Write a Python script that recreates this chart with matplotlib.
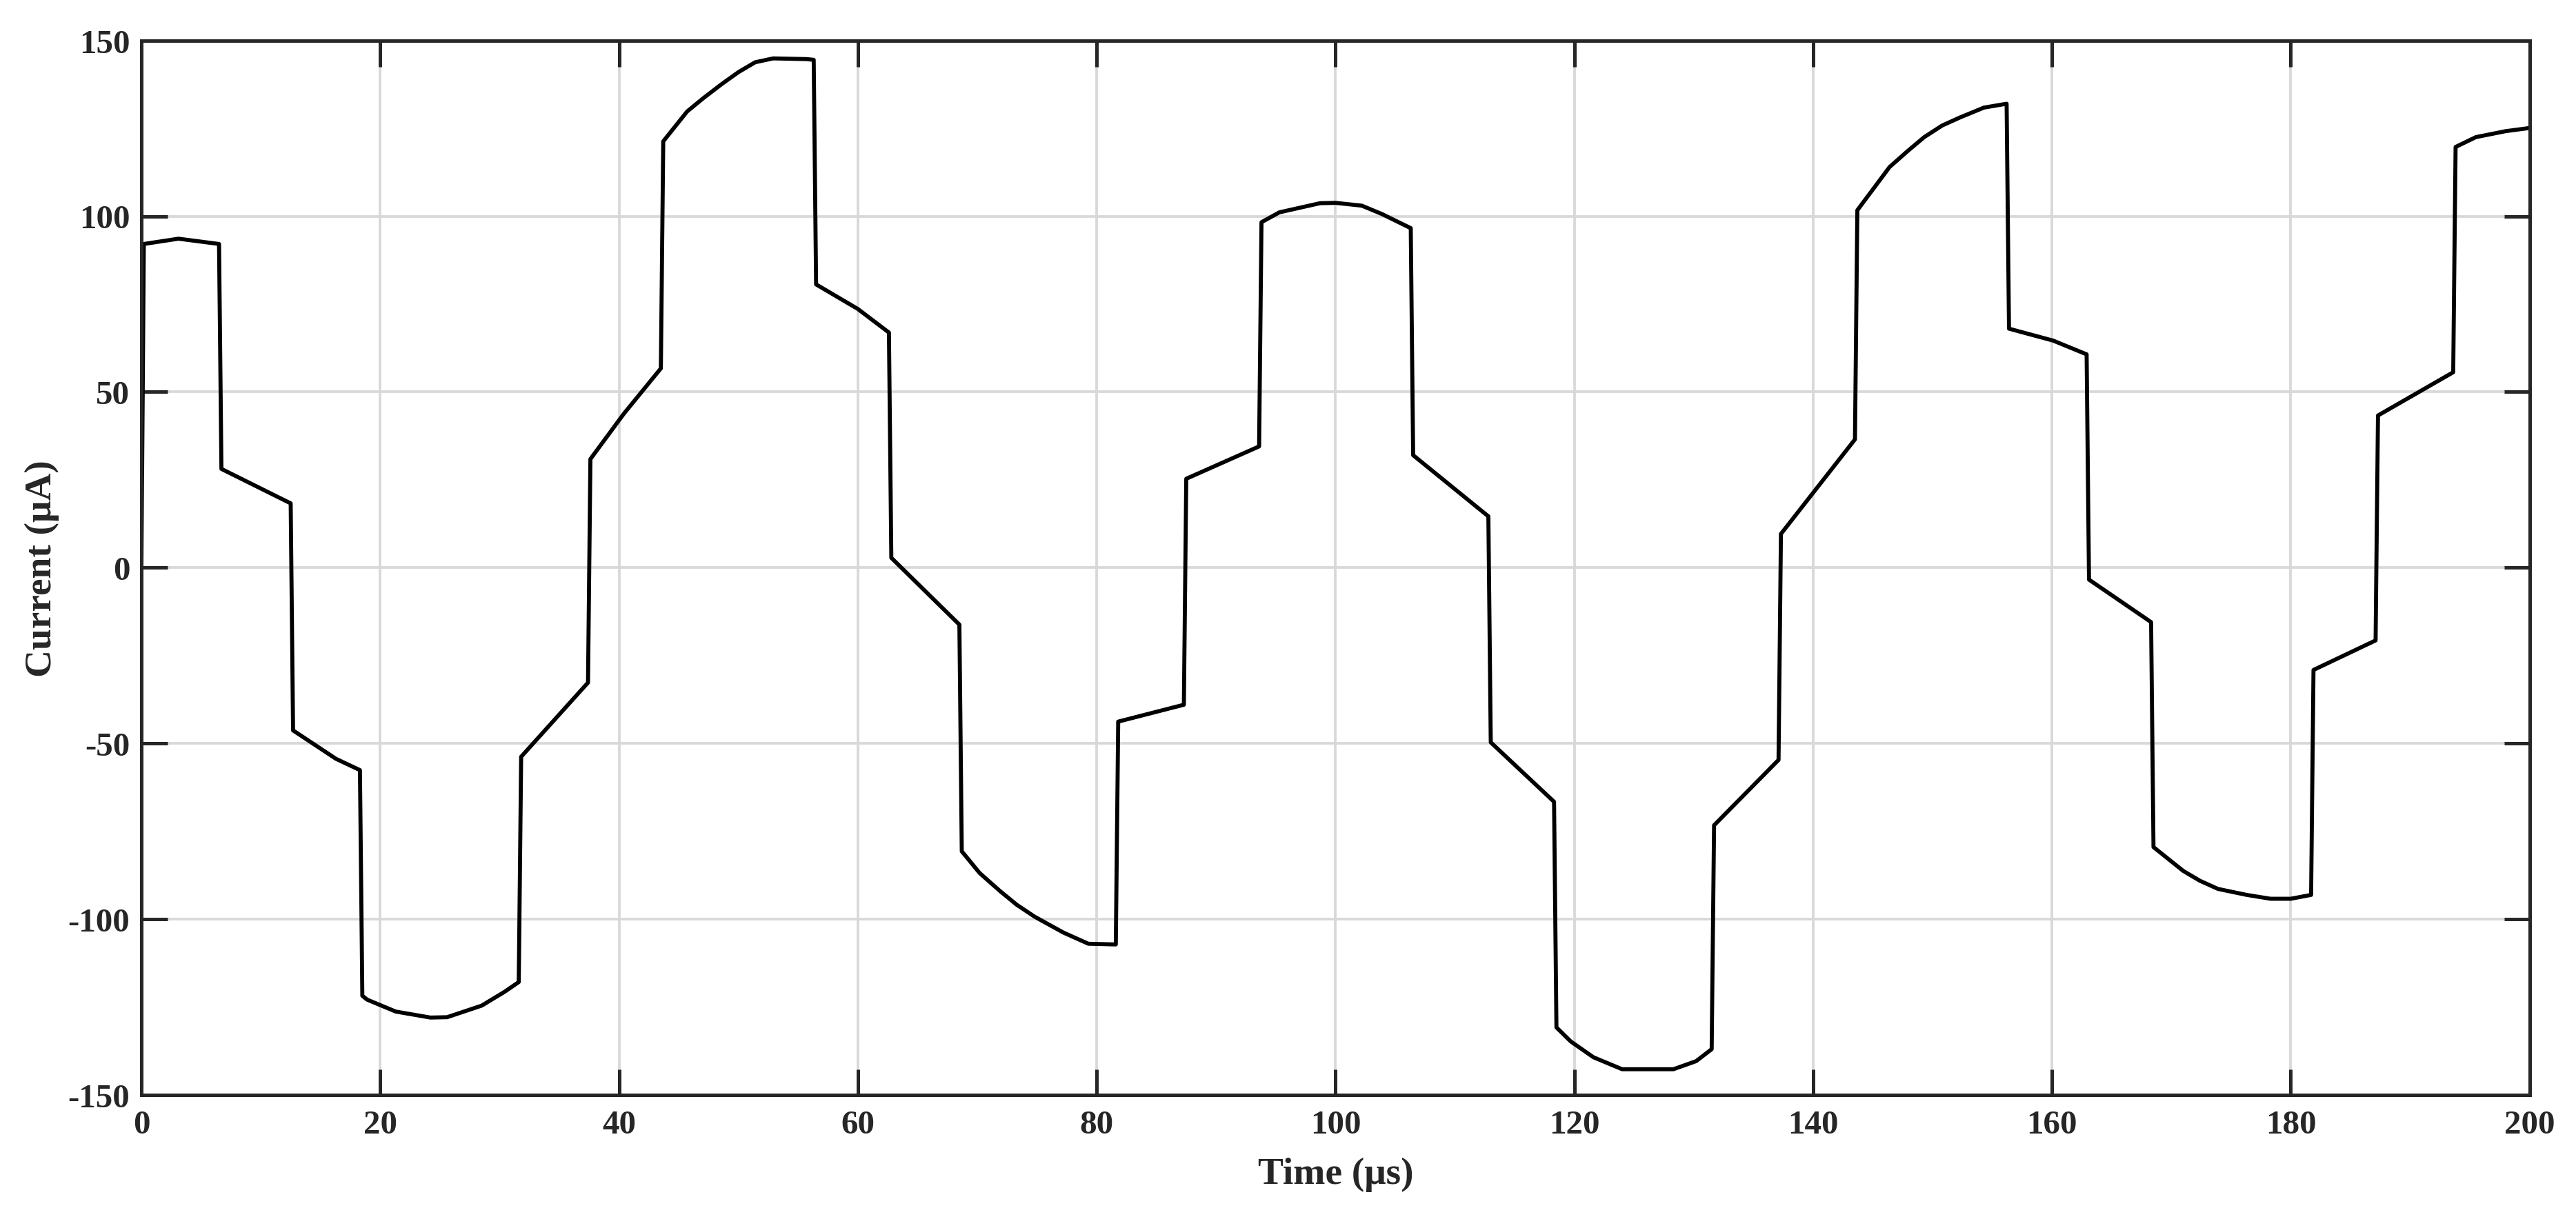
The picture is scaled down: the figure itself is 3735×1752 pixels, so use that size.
import matplotlib
matplotlib.use('Agg')
import matplotlib.pyplot as plt

# waveform (time in us, current in uA)
time_us = [0, 0.2, 3.1, 6.5, 6.7, 12.5, 12.7, 16.3, 18.3, 18.5, 18.9, 21.3, 24.2, 25.6, 28.5, 30.4, 31.6, 31.8,
           37.4, 37.6, 40.4, 43.5, 43.7, 45.7, 47.1, 48.6, 50.0, 51.4, 52.9, 55.7, 56.3, 56.5, 60.0, 62.6, 62.8,
           68.5, 68.7, 70.2, 71.9, 73.3, 74.8, 77.2, 79.3, 81.6, 81.8, 87.3, 87.5, 93.6, 93.8, 95.3, 98.7, 100.0,
           102.2, 103.9, 106.3, 106.5, 112.8, 113.0, 118.3, 118.5, 119.7, 121.6, 124.0, 128.3, 130.2,
           131.5, 131.7, 137.1, 137.3, 143.5, 143.7, 146.4, 147.9, 149.3, 150.8, 152.3, 154.3, 156.2, 156.4,
           160.1, 162.9, 163.1, 168.3, 168.5, 171.0, 172.4, 173.9, 176.3, 178.3, 180.0, 181.7, 181.9, 187.1,
           187.3, 193.6, 193.8, 195.5, 198.0, 200.0]
current_ua = [0, 92.1, 93.6, 92.1, 28.1, 18.3, -46.3, -54.4, -57.6, -121.8, -122.9, -126.3, -128.0, -127.9,
              -124.6, -120.7, -117.9, -53.8, -32.7, 30.9, 43.8, 56.7, 121.3, 129.8, 133.7, 137.6, 141.0, 143.8,
              144.9, 144.7, 144.5, 80.6, 73.6, 66.9, 2.8, -16.2, -80.7, -86.9, -92.0, -95.9, -99.3, -103.8,
              -107.0, -107.2, -43.8, -39.0, 25.3, 34.5, 98.3, 101.1, 103.7, 103.8, 103.0, 100.6, 96.6, 32.0,
              14.6, -49.7, -66.6, -130.8, -134.8, -139.3, -142.7, -142.7, -140.4, -137.0, -73.3, -54.7, 9.6,
              36.5, 101.7, 114.0, 118.5, 122.5, 125.8, 128.1, 130.9, 132.0, 68.0, 64.6, 60.7, -3.4, -15.5,
              -79.5, -86.3, -89.1, -91.4, -93.1, -94.2, -94.2, -93.1, -29.1, -20.7, 43.3, 55.6, 119.7, 122.5,
              124.2, 125.1]

xticks = [0, 20, 40, 60, 80, 100, 120, 140, 160, 180, 200]
yticks = [-150, -100, -50, 0, 50, 100, 150]

plt.rcParams['font.family'] = ['Liberation Serif', 'DejaVu Serif']
plt.rcParams['font.weight'] = 'bold'
plt.rcParams['axes.unicode_minus'] = False

fig = plt.figure(figsize=(12.45, 5.843), dpi=300)
ax = fig.add_axes([0.0549, 0.0936, 0.9271, 0.8724])

ax.plot(time_us, current_ua, color='black', linewidth=1.4)

ax.set_xlim(0, 200)
ax.set_ylim(-150, 150)
ax.set_xticks(xticks)
ax.set_yticks(yticks)
ax.grid(True, color='#d8d8d8', linewidth=0.9)
ax.set_axisbelow(True)

ax.tick_params(direction='in', length=9, width=1.2, colors='#262626', labelsize=11.8,
               top=True, right=True)
ax.tick_params(axis='x', pad=5)
ax.tick_params(axis='y', pad=4)
for s in ax.spines.values():
    s.set_linewidth(1.2)
    s.set_color('#262626')
for lab in ax.get_xticklabels() + ax.get_yticklabels():
    lab.set_fontweight('bold')

ax.set_xlabel('Time (μs)', fontsize=13.3, fontweight='bold', color='#262626', labelpad=6)
ax.set_ylabel('Current (μA)', fontsize=13.3, fontweight='bold', color='#262626', labelpad=3)

fig.savefig('out.png', dpi=300, facecolor='white')
